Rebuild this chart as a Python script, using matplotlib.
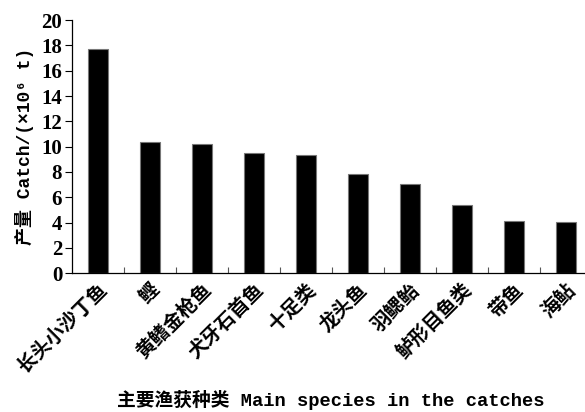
import matplotlib
matplotlib.use("Agg")
import matplotlib.pyplot as plt
import numpy as np
from matplotlib.ticker import FixedLocator

categories = ["长头小沙丁鱼", "鲣", "黄鳍金枪鱼", "犬牙石首鱼", "十足类",
              "龙头鱼", "羽鳃鲐", "鲈形目鱼类", "带鱼", "海鲇"]
values = [17.7, 10.35, 10.2, 9.5, 9.35, 7.85, 7.07, 5.4, 4.1, 4.08]
yticks = [0, 2, 4, 6, 8, 10, 12, 14, 16, 18, 20]

fig = plt.figure(figsize=(5.85, 4.12), dpi=100)
ax = fig.add_axes([0.123, 0.337, 0.889, 0.614])

x = np.arange(len(categories))
ax.bar(x, values, width=0.39, color="black", edgecolor="#777777", linewidth=0.8)

ax.set_xlim(-0.5, len(categories) - 0.5)
ax.set_ylim(0, 20)
ax.set_yticks(yticks)
ax.set_yticklabels([str(t) for t in yticks], fontfamily="Liberation Serif",
                   fontweight="bold", fontsize=15)
ax.tick_params(axis="y", direction="out", length=5, width=0.8, pad=2)

ax.set_xticks(x)
ax.set_xticklabels(categories, rotation=45, ha="right", rotation_mode="anchor",
                   fontfamily=["Noto Sans CJK SC"], fontweight="bold", fontsize=14)
ax.tick_params(axis="x", which="major", length=0, pad=5)
ax.xaxis.set_minor_locator(FixedLocator(np.arange(0.5, len(categories) - 0.5, 1)))
ax.tick_params(axis="x", which="minor", direction="in", length=4, width=0.8, color="#555555")

for s in ["top", "right"]:
    ax.spines[s].set_visible(False)
for s in ["left", "bottom"]:
    ax.spines[s].set_linewidth(0.9)

ax.set_ylabel("产量 Catch/(×10⁶ t)", fontfamily=["Liberation Mono", "Noto Sans CJK SC"],
              fontweight="bold", fontsize=13, labelpad=5)
fig.text(0.565, 0.03, "主要渔获种类 Main species in the catches",
         ha="center", va="center", fontfamily=["Liberation Mono", "Noto Sans CJK SC"],
         fontweight="bold", fontsize=13.5)

fig.savefig("out.png", dpi=100)
